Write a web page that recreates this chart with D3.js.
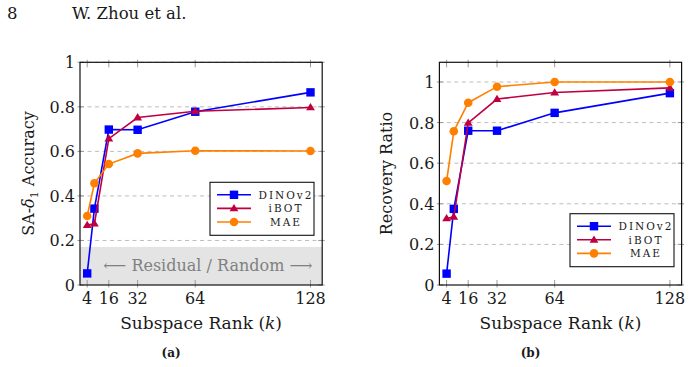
<!DOCTYPE html>
<html>
<head>
<meta charset="utf-8">
<script src="https://cdn.jsdelivr.net/npm/d3@7"></script>
<style>
  body { margin: 0; background: #fff; }
</style>
</head>
<body>
<script>
'use strict';

var ranks = [4, 8, 16, 32, 64, 128];
var xTicks = [4, 16, 32, 64, 128];
var seriesNames = ["DINOv2", "iBOT", "MAE"];

// panel (a): SA-delta1 accuracy
var accDino = [0.052, 0.343, 0.698, 0.697, 0.778, 0.865];
var accIbot = [0.269, 0.275, 0.657, 0.752, 0.780, 0.797];
var accMae = [0.310, 0.457, 0.543, 0.591, 0.603, 0.602];
var accTicks = [0, 0.2, 0.4, 0.6, 0.8, 1];

// panel (b): recovery ratio
var recDino = [0.056, 0.375, 0.760, 0.760, 0.848, 0.945];
var recIbot = [0.328, 0.336, 0.798, 0.916, 0.948, 0.971];
var recMae = [0.512, 0.757, 0.898, 0.977, 1.0, 1.0];
var recTicks = [0, 0.2, 0.4, 0.6, 0.8, 1];

var colors = ["#0000ff", "#bf0040", "#ff8000"];
var markers = ["square", "triangle", "circle"];

var width = 689, height = 367;
var serif = "'DejaVu Serif', serif";

var svg = d3.select("body").append("svg")
    .attr("width", width)
    .attr("height", height)
    .attr("font-family", serif)
    .attr("fill", "#1a1a1a");

svg.append("text").attr("x", 7).attr("y", 19).attr("font-size", 16.5).text("8");
svg.append("text").attr("x", 72).attr("y", 19).attr("font-size", 16.5).text("W. Zhou et al.");

function fmt(v) {
    return v === 0 ? "0" : v === 1 ? "1" : d3.format(".1f")(v);
}

function drawMarker(g, type, cx, cy, color, s) {
    if (type === "square") {
        g.append("rect").attr("x", cx - s).attr("y", cy - s)
            .attr("width", 2 * s).attr("height", 2 * s).attr("fill", color);
    } else if (type === "triangle") {
        var r = s * 1.05;
        g.append("path")
            .attr("d", "M" + cx + "," + (cy - r) + "L" + (cx + r) + "," + (cy + r * 0.65) + "L" + (cx - r) + "," + (cy + r * 0.65) + "Z")
            .attr("fill", color);
    } else {
        g.append("circle").attr("cx", cx).attr("cy", cy).attr("r", s * 1.02).attr("fill", color);
    }
}

function panel(opt) {
    var x = d3.scaleLinear().domain([0, 134.5]).range([opt.left, opt.left + 242.2]);
    var y = d3.scaleLinear().domain([0, opt.ymax]).range([285, 62.3]);
    var g = svg.append("g");
    var x0 = x.range()[0], x1 = x.range()[1], y0 = y.range()[0], y1 = y.range()[1];

    if (opt.band) {
        g.append("rect").attr("x", x0).attr("y", y(opt.band))
            .attr("width", x1 - x0).attr("height", y0 - y(opt.band))
            .attr("fill", "#e4e4e4");
        g.append("text")
            .attr("x", x(71)).attr("y", y(opt.band / 2) + 5.5)
            .attr("text-anchor", "middle")
            .attr("font-size", 16).attr("fill", "#808080")
            .text("\u27F5 Residual / Random \u27F6");
    }

    // grid
    g.selectAll(".grid").data(opt.ticks.filter(function (t) { return t > 0; }))
        .enter().append("line")
        .attr("x1", x0).attr("x2", x1)
        .attr("y1", function (d) { return y(d); }).attr("y2", function (d) { return y(d); })
        .attr("stroke", "#bdbdbd").attr("stroke-width", 1)
        .attr("stroke-dasharray", "4,3.5");

    // tick marks
    opt.ticks.forEach(function (t) {
        g.append("line").attr("x1", x0 - 2.5).attr("x2", x0 + 4).attr("y1", y(t)).attr("y2", y(t)).attr("stroke", "#9a9a9a");
        g.append("line").attr("x1", x1 - 4).attr("x2", x1 + 2.5).attr("y1", y(t)).attr("y2", y(t)).attr("stroke", "#9a9a9a");
    });
    xTicks.forEach(function (t) {
        g.append("line").attr("x1", x(t)).attr("x2", x(t)).attr("y1", y0 + 2.5).attr("y2", y0 - 5).attr("stroke", "#9a9a9a");
        g.append("line").attr("x1", x(t)).attr("x2", x(t)).attr("y1", y1 - 2.5).attr("y2", y1 + 5).attr("stroke", "#9a9a9a");
    });

    // tick labels
    g.selectAll(".yl").data(opt.ticks).enter().append("text")
        .attr("x", x0 - 5).attr("y", function (d) { return y(d) + 6; })
        .attr("text-anchor", "end").attr("font-size", 16)
        .text(fmt);
    g.selectAll(".xl").data(xTicks).enter().append("text")
        .attr("x", function (d) { return x(d); }).attr("y", 304)
        .attr("text-anchor", "middle").attr("font-size", 16)
        .text(function (d) { return d; });

    // series
    opt.series.forEach(function (vals, i) {
        var pts = ranks.map(function (r, j) { return [x(r), y(vals[j])]; });
        g.append("path").attr("d", d3.line()(pts))
            .attr("fill", "none").attr("stroke", colors[i]).attr("stroke-width", 1.6);
        pts.forEach(function (p) { drawMarker(g, markers[i], p[0], p[1], colors[i], 4.2); });
    });

    // frame
    g.append("rect").attr("x", x0).attr("y", y1).attr("width", x1 - x0).attr("height", y0 - y1)
        .attr("fill", "none").attr("stroke", "#111").attr("stroke-width", 1.2);

    // legend
    var lg = g.append("g");
    lg.append("rect").attr("x", opt.leg[0]).attr("y", opt.leg[1]).attr("width", 104).attr("height", 53)
        .attr("fill", "#fff").attr("stroke", "#111").attr("stroke-width", 1.1);
    seriesNames.forEach(function (name, i) {
        var ly = opt.leg[1] + 12.5 + i * 13.6;
        var lx = opt.leg[0] + 7;
        lg.append("line").attr("x1", lx).attr("x2", lx + 34).attr("y1", ly).attr("y2", ly)
            .attr("stroke", colors[i]).attr("stroke-width", 1.6);
        drawMarker(lg, markers[i], lx + 17, ly, colors[i], 4.2);
        lg.append("text").attr("x", opt.leg[0] + 76).attr("y", ly + 4)
            .attr("text-anchor", "middle").attr("font-size", 10.5).attr("letter-spacing", 2)
            .text(name);
    });

    // axis titles
    var xt = g.append("text").attr("x", (x0 + x1) / 2).attr("y", 329)
        .attr("text-anchor", "middle").attr("font-size", 17);
    xt.append("tspan").text("Subspace Rank (");
    xt.append("tspan").attr("font-style", "italic").text("k");
    xt.append("tspan").text(")");

    var yt = g.append("text")
        .attr("transform", "translate(" + opt.ylabX + ",173.5) rotate(-90)")
        .attr("text-anchor", "middle").attr("font-size", 16);
    opt.ylab(yt);

    g.append("text").attr("x", (x0 + x1) / 2 - 30).attr("y", 357)
        .attr("text-anchor", "middle").attr("font-size", 12).attr("font-weight", "bold")
        .text(opt.tag);
}

panel({
    left: 80, ymax: 1, ticks: accTicks, band: 0.171,
    series: [accDino, accIbot, accMae],
    leg: [210, 182.3], ylabX: 34, tag: "(a)",
    ylab: function (t) {
        t.append("tspan").text("SA-");
        t.append("tspan").attr("font-style", "italic").text("\u03B4");
        t.append("tspan").attr("dy", 4).attr("font-size", 11).text("1");
        t.append("tspan").attr("dy", -4).text(" Accuracy");
    }
});

panel({
    left: 439.4, ymax: 1.097, ticks: recTicks, band: 0,
    series: [recDino, recIbot, recMae],
    leg: [570, 213.7], ylabX: 392, tag: "(b)",
    ylab: function (t) { t.text("Recovery Ratio"); }
});
</script>
</body>
</html>
